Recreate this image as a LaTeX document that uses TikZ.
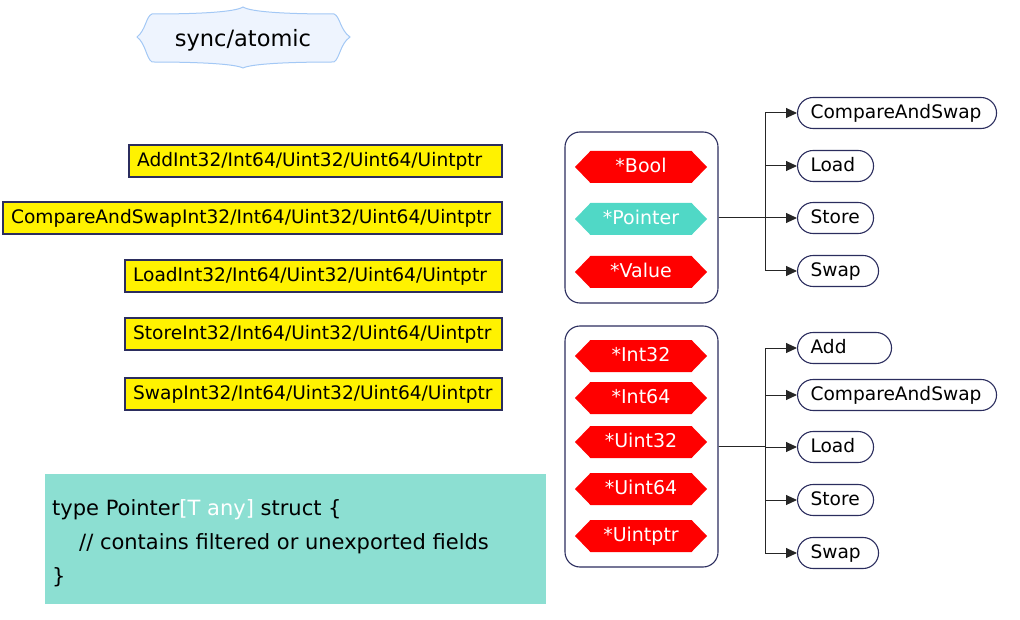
\documentclass[tikz,border=0pt]{standalone}
\usepackage{fontspec}
\setmainfont{DejaVu Sans}
\usetikzlibrary{shapes.symbols,arrows.meta}
\definecolor{navy}{HTML}{2B2D5E}
\definecolor{hexteal}{HTML}{50D8C6}
\definecolor{codeteal}{HTML}{8CDFD2}
\definecolor{titlefill}{HTML}{EEF4FE}
\definecolor{titleline}{HTML}{A3C8F5}

\begin{document}
\begin{tikzpicture}[x=1pt,y=-1pt,
  ybox/.style={draw=navy, line width=1.8pt, fill=yellow, anchor=east, align=left,
    inner xsep=8pt, inner ysep=0pt, minimum height=32pt, text height=14pt, text depth=3pt,
    font=\fontsize{18.6}{20}\selectfont},
  hexa/.style={signal, signal to=west and east, signal pointer angle=92, fill=red,
    text=white, minimum width=132pt, minimum height=32pt, inner sep=0pt,
    text height=14pt, text depth=3pt, font=\fontsize{19}{20}\selectfont},
  grp/.style={draw=navy, line width=1.1pt, rounded corners=15pt, minimum width=153pt},
  meth/.style={draw=navy, line width=1.1pt, rounded corners=15.5pt, anchor=west, align=left,
    inner xsep=13pt, inner ysep=0pt, minimum height=31pt, text height=14pt, text depth=3pt,
    font=\fontsize{18.6}{20}\selectfont},
  conn/.style={line width=1pt, draw=black!85, -{Triangle[length=11pt,width=10pt]}}]
  \useasboundingbox (0,0) rectangle (1020,620);

  % title
  \filldraw[fill=titlefill, draw=titleline, line width=1pt]
    (152,14) .. controls (200,14) and (235,12) .. (243,7)
    .. controls (251,12) and (286,14) .. (334,14)
    .. controls (340,16) and (340,30) .. (350,37)
    .. controls (340,44) and (340,58) .. (334,62)
    .. controls (286,62) and (251,64) .. (243,68)
    .. controls (235,64) and (200,62) .. (152,62)
    .. controls (146,58) and (146,44) .. (137,37)
    .. controls (146,30) and (146,16) .. (152,14) -- cycle;
  \node[font=\fontsize{22.5}{24}\selectfont] (title) at (243,40) {sync/atomic};

  % functions
  \node[ybox, text width=357pt] (add) at (503,161) {AddInt32/Int64/Uint32/Uint64/Uintptr};
  \node[ybox, text width=483pt] (cas) at (503,218) {CompareAndSwapInt32/Int64/Uint32/Uint64/Uintptr};
  \node[ybox, text width=361pt] (load) at (503,276) {LoadInt32/Int64/Uint32/Uint64/Uintptr};
  \node[ybox, text width=361pt] (store) at (503,334) {StoreInt32/Int64/Uint32/Uint64/Uintptr};
  \node[ybox, text width=361pt] (swap) at (503,394) {SwapInt32/Int64/Uint32/Uint64/Uintptr};

  % declaration
  \node[fill=codeteal, minimum width=501pt, minimum height=130pt] (declbox) at (295.5,539) {};
  \node[anchor=west, align=left, inner sep=0pt, font=\fontsize{21}{34}\selectfont]
    (decl) at (52,543)
    {type Pointer{\color{white}[T any]} struct \{\\
     \hspace*{27pt}// contains filtered or unexported fields\\
     \}};

  % types
  \node[grp, minimum height=171pt] (g1) at (641.5,217.5) {};
  \node[hexa] (bool) at (641,167) {*Bool};
  \node[hexa, fill=hexteal] (ptr) at (641,219) {*Pointer};
  \node[hexa] (val) at (641,272) {*Value};

  \node[grp, minimum height=241pt] (g2) at (641.5,446.5) {};
  \node[hexa] (i32) at (641,356) {*Int32};
  \node[hexa] (i64) at (641,398) {*Int64};
  \node[hexa] (u32) at (641,442) {*Uint32};
  \node[hexa] (u64) at (641,489) {*Uint64};
  \node[hexa] (uptr) at (641,536) {*Uintptr};

  % methods
  \node[meth, text width=173pt] (casA) at (797,113) {CompareAndSwap};
  \node[meth, text width=50pt] (loadA) at (797,166) {Load};
  \node[meth, text width=50pt] (storeA) at (797,218) {Store};
  \node[meth, text width=55pt] (swapA) at (797,271) {Swap};

  \node[meth, text width=68pt] (addB) at (797,348) {Add};
  \node[meth, text width=173pt] (casB) at (797,395) {CompareAndSwap};
  \node[meth, text width=50pt] (loadB) at (797,447) {Load};
  \node[meth, text width=50pt] (storeB) at (797,500) {Store};
  \node[meth, text width=55pt] (swapB) at (797,553) {Swap};

  \coordinate (j1) at (765,217.5);
  \coordinate (j2) at (765,446.5);
  \foreach \m in {casA,loadA,storeA,swapA}
    \draw[conn] (g1.east) -- (j1) |- (\m.west);
  \foreach \m in {addB,casB,loadB,storeB,swapB}
    \draw[conn] (g2.east) -- (j2) |- (\m.west);
\end{tikzpicture}
\end{document}
